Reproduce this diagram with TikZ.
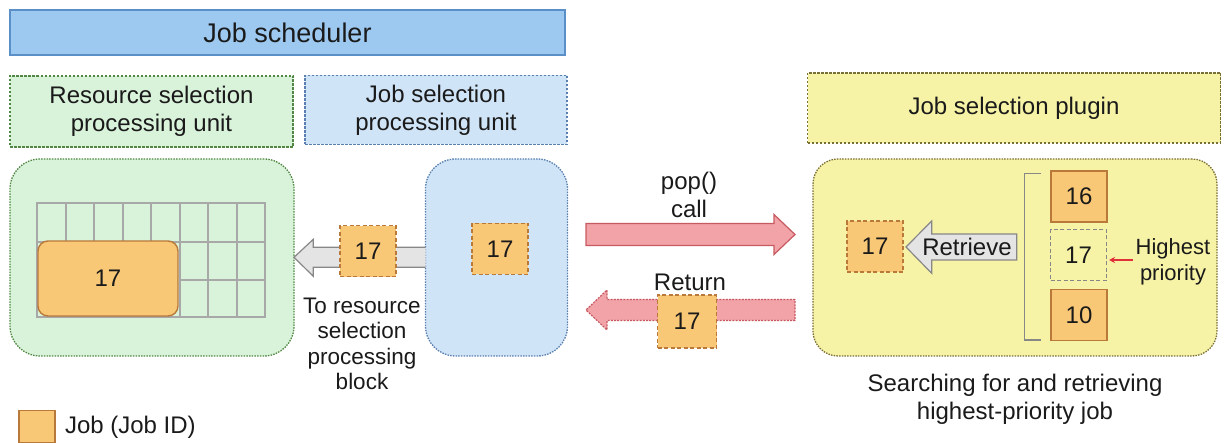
\documentclass[tikz,border=0pt]{standalone}
\usepackage{fontspec}
\setmainfont{Liberation Sans}
\usetikzlibrary{arrows.meta}
\definecolor{txt}{HTML}{1A1A1A}
\definecolor{schedfill}{HTML}{9DC9F1}
\definecolor{scheddraw}{HTML}{5B8FC7}
\definecolor{greenfill}{HTML}{D9F2DA}
\definecolor{greendraw}{HTML}{4F8743}
\definecolor{bluefill}{HTML}{D0E4F7}
\definecolor{bluedraw}{HTML}{5A80B0}
\definecolor{yelfill}{HTML}{F6F2A6}
\definecolor{yeldraw}{HTML}{7A6F34}
\definecolor{jobfill}{HTML}{F9C877}
\definecolor{jobdraw}{HTML}{B9793A}
\definecolor{grayfill}{HTML}{E4E4E4}
\definecolor{graydraw}{HTML}{878787}
\definecolor{pinkfill}{HTML}{F1A3A8}
\definecolor{pinkdraw}{HTML}{C75A61}
\definecolor{gridc}{HTML}{A8A8A8}
\definecolor{redarrow}{HTML}{E0303A}
\begin{document}
\begin{tikzpicture}[x=1pt,y=-1pt,
  every node/.style={text=txt, inner sep=0pt, outer sep=0pt},
  big/.style={font=\fontsize{24}{28}\selectfont},
  titlebox/.style={draw=scheddraw, fill=schedfill, line width=1.4pt, font=\fontsize{27}{30}\selectfont},
  pubox/.style={line width=1.3pt, dash pattern=on 2.5pt off 1.5pt, align=center, big},
  roundbox/.style={line width=1.3pt, dash pattern=on 1.5pt off 1.2pt, rounded corners=30pt},
  job/.style={draw=jobdraw, fill=jobfill, line width=1.4pt, minimum width=56pt, minimum height=51pt, big},
  jobt/.style={job, dash pattern=on 4pt off 2.5pt},
  blockarrow/.style={line width=1.2pt, line join=miter},
  gridline/.style={draw=gridc, line width=2pt},
  label/.style={align=center, big}
]
\useasboundingbox (0,0) rectangle (1224,443);

% headers
\node[titlebox, minimum width=555pt, minimum height=45pt] (sched) at (287.5,32.5) {Job scheduler};
\node[pubox, draw=greendraw, fill=greenfill, minimum width=283pt, minimum height=71pt] (rspu) at (151.5,111.5)
  {Resource selection\\processing unit};
\node[pubox, draw=bluedraw, fill=bluefill, minimum width=262pt, minimum height=69pt] (jspu) at (436,110)
  {Job selection\\processing unit};
\node[pubox, draw=yeldraw, fill=yelfill, minimum width=413pt, minimum height=70pt] (plug) at (1014,108)
  {Job selection plugin};

% rounded containers
\node[roundbox, draw=greendraw, fill=greenfill, minimum width=284pt, minimum height=197pt] (rsbox) at (152,257.5) {};
\node[roundbox, draw=bluedraw, fill=bluefill, minimum width=142pt, minimum height=197pt] (jsbox) at (496.5,257.5) {};
\node[roundbox, draw=yeldraw, fill=yelfill, minimum width=404pt, minimum height=197pt, rounded corners=25pt] (plbox) at (1015,257.5) {};

% grid
\foreach \i in {0,...,7} {
  \draw[gridline] ({37+28.5*\i},203) rectangle ({37+28.5*(\i+1)},242);
}
\foreach \i in {5,6,7} {
  \draw[gridline] ({37+28.5*\i},242) rectangle ({37+28.5*(\i+1)},280);
  \draw[gridline] ({37+28.5*\i},280) rectangle ({37+28.5*(\i+1)},317);
}
\draw[gridline] (37,242) rectangle (179.5,317);
\node[job, minimum width=140pt, minimum height=75pt, rounded corners=10pt] (alloc) at (108,278.5) {17};

% gray arrow from job selection unit to resource selection unit
\draw[blockarrow, draw=graydraw, fill=grayfill]
  (jsbox.west |- 0,247.3) -- (313.3,247.3) -- (313.3,239.3) -- (rsbox.east |- 0,257.3)
  -- (313.3,276.3) -- (313.3,267.3) -- (jsbox.west |- 0,267.3);
\node[jobt] (j1) at (368,251.3) {17};
\node[jobt] (j0) at (500,249) {17};
\node[label, font=\fontsize{22.5}{25.5}\selectfont, anchor=north] (tolab) at (362,298) {To resource\\selection\\processing\\block};

% pink arrows
\draw[blockarrow, draw=pinkdraw, fill=pinkfill]
  (586,223.5) -- (774,223.5) -- (774,214.5) -- (795,234.5) -- (774,254.5) -- (774,245.5) -- (586,245.5) -- cycle;
\node[label] (pop) at (689,195) {pop()\\call};
\draw[blockarrow, draw=pinkdraw, fill=pinkfill, dash pattern=on 2pt off 1.2pt]
  (795,299.5) -- (607,299.5) -- (607,290) -- (586,310) -- (607,330) -- (607,320.5) -- (795,320.5) -- cycle;
\node[label] (ret) at (690,282) {Return};
\node[jobt, minimum width=59pt, minimum height=53pt] (j2) at (687,321.7) {17};

% plugin content
\node[jobt] (j3) at (875,246.7) {17};
\draw[blockarrow, draw=graydraw, fill=grayfill]
  (1016.7,234) -- (931.7,234) -- (931.7,221) -- (906,247) -- (931.7,273.3) -- (931.7,260) -- (1016.7,260) -- cycle;
\node[big] (retr) at (967,247) {Retrieve};
\draw[graydraw, line width=1.5pt] (1041,173.3) -- (1024.3,173.3) -- (1024.3,340) -- (1041,340);
\node[job] (q16) at (1079,196.7) {16};
\node[job, draw=graydraw, fill=none, dash pattern=on 4pt off 2.5pt, line width=1.2pt] (q17) at (1078.5,255.3) {17};
\node[job] (q10) at (1079,315) {10};
\node[label, font=\fontsize{22}{26}\selectfont] (hp) at (1173,262) {Highest\\priority};
\coordinate (redtail) at (1133,260);
\coordinate (redtip) at (1109,260);
\draw[redarrow, line width=1.3pt, -{Stealth[length=6pt,width=6pt]}] (redtail) -- (redtip);
\node[label] (search) at (1015,399) {Searching for and retrieving\\highest-priority job};

% legend
\node[draw=jobdraw, fill=jobfill, line width=1.4pt, minimum width=36pt, minimum height=32pt] (leg) at (37,426.5) {};
\node[big, anchor=west] (legt) at (65,427) {Job (Job ID)};
\end{tikzpicture}
\end{document}
